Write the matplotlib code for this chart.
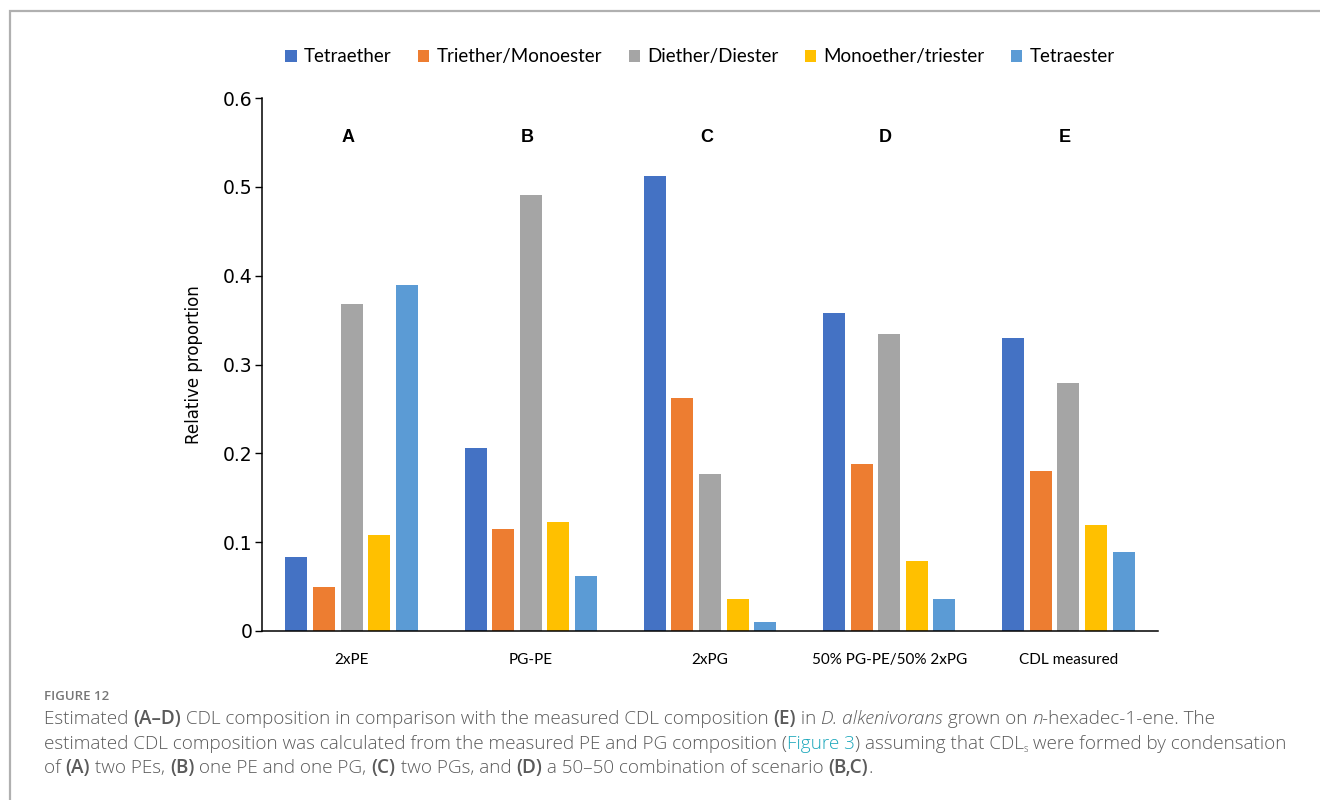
import numpy as np
import matplotlib.pyplot as plt
from matplotlib.patches import Rectangle

scenarios = ['2xPE', 'PG-PE', '2xPG', '50% PG-PE/50% 2xPG', 'CDL measured']
panel_letters = ['A', 'B', 'C', 'D', 'E']
series_names = ['Tetraether', 'Triether/Monoester', 'Diether/Diester',
                'Monoether/triester', 'Tetraester']
tetraether = [0.083, 0.206, 0.512, 0.358, 0.330]
triether_monoester = [0.050, 0.115, 0.262, 0.188, 0.180]
diether_diester = [0.368, 0.491, 0.177, 0.334, 0.279]
monoether_triester = [0.108, 0.123, 0.036, 0.079, 0.119]
tetraester = [0.390, 0.062, 0.010, 0.036, 0.089]
colors = ['#4472C4', '#ED7D31', '#A5A5A5', '#FFC000', '#5B9BD5']

series = [tetraether, triether_monoester, diether_diester, monoether_triester, tetraester]

W, H = 1320, 800
fig = plt.figure(figsize=(W / 100, H / 100), dpi=100)

# light frame around the figure panel
fig.patches.append(Rectangle((10 / W, -0.01), 1.02, 1 - 10.5 / H + 0.01,
                             transform=fig.transFigure, fill=False,
                             edgecolor='#b0b0b0', linewidth=1.6))

ax = fig.add_axes([262 / W, 1 - 631 / H, 896 / W, 533 / H])
x = np.arange(len(scenarios))
step = 0.154
width = 0.123
for i, (vals, name, c) in enumerate(zip(series, series_names, colors)):
    ax.bar(x + (i - 2) * step, vals, width, color=c, label=name)

ax.set_xlim(-0.5, len(scenarios) - 0.5)
ax.set_ylim(0, 0.6)
ax.set_yticks([0, 0.1, 0.2, 0.3, 0.4, 0.5, 0.6])
ax.set_yticklabels(['0', '0.1', '0.2', '0.3', '0.4', '0.5', '0.6'],
                   fontsize=13.5, family='DejaVu Sans')
ax.set_xticks(x)
ax.set_xticklabels(scenarios, fontsize=11, family='Lato')
ax.tick_params(axis='x', length=0, pad=16)
ax.tick_params(axis='y', length=5, width=1, pad=2)
for s in ['top', 'right']:
    ax.spines[s].set_visible(False)
ax.spines['left'].set_linewidth(1.1)
ax.spines['bottom'].set_linewidth(1.1)
ax.set_ylabel('Relative proportion', fontsize=12, family='DejaVu Sans', labelpad=14)

for xi, letter in zip(x, panel_letters):
    ax.text(xi - 0.02, 0.555, letter, ha='center', va='center',
            fontsize=13, fontweight='bold', family='Liberation Sans')

ax.legend(loc='center', bbox_to_anchor=(0.489, 1.077), ncol=5, frameon=False,
          prop={'family': 'Lato', 'size': 13.5}, handlelength=0.6, handleheight=0.6,
          handletextpad=0.4, columnspacing=1.4)

# caption
cap_color = '#5a5a5a'
link_color = '#1ea8bc'
fig.text(44 / W, 1 - 697 / H, 'FIGURE 12', fontsize=9.5, color='#777777',
         family='Open Sans', fontweight='semibold', va='center')

N, B, I = 'normal', 'bold', 'italic'
lines = [
    [('Estimated ', N), ('(A–D)', B),
     (' CDL composition in comparison with the measured CDL composition ', N),
     ('(E)', B), (' in ', N), ('D. alkenivorans', I), (' grown on ', N), ('n', I),
     ('-hexadec-1-ene. The', N)],
    [('estimated CDL composition was calculated from the measured PE and PG composition (', N),
     ('Figure 3', 'link'), (') assuming that CDL', N), ('s', 'sub'),
     (' were formed by condensation', N)],
    [('of ', N), ('(A)', B), (' two PEs, ', N), ('(B)', B), (' one PE and one PG, ', N),
     ('(C)', B), (' two PGs, and ', N), ('(D)', B),
     (' a 50–50 combination of scenario ', N), ('(B,C)', B), ('.', N)],
]
baselines = [724, 749, 773]
renderer = fig.canvas.get_renderer()
for line, yb in zip(lines, baselines):
    xpix = 44
    for seg, kind in line:
        kw = dict(fontsize=13.6, color=cap_color, family='Open Sans',
                  fontweight='light', fontstyle='normal', va='baseline', ha='left')
        ypix = yb
        if kind == B:
            kw['fontweight'] = 'semibold'
        elif kind == I:
            kw['fontstyle'] = 'italic'
        elif kind == 'link':
            kw['color'] = link_color
        elif kind == 'sub':
            kw['fontsize'] = 7
            ypix = yb + 3
        t = fig.text(xpix / W, 1 - ypix / H, seg, **kw)
        bb = t.get_window_extent(renderer)
        xpix = bb.x1

fig.savefig('out.png', dpi=100)
